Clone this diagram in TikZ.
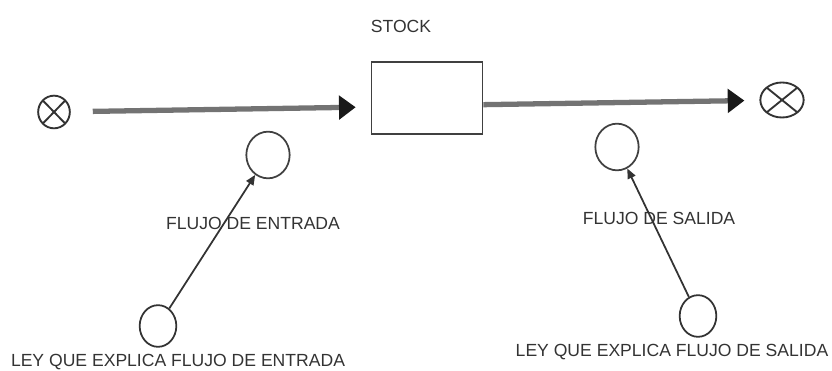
\documentclass[tikz,border=0pt]{standalone}
\usepackage{fontspec}
\setmainfont{Liberation Sans}
\usepackage{tikz}
\usetikzlibrary{arrows.meta, shapes.geometric, positioning, calc}

\tikzset{
  nube/.style={ellipse, draw=black!80, line width=1.6pt, inner sep=0pt,
    path picture={\draw[black!80, line width=1.6pt]
      (path picture bounding box.north west) -- (path picture bounding box.south east)
      (path picture bounding box.north east) -- (path picture bounding box.south west);}},
  nivel/.style={rectangle, draw=black!75, line width=1.4pt, minimum width=3.33cm, minimum height=2.16cm},
  valvula/.style={ellipse, draw=black!75, line width=1.5pt, minimum width=1.3cm, minimum height=1.4cm},
  ley/.style={ellipse, draw=black!80, line width=1.5pt, minimum width=1.1cm, minimum height=1.25cm},
  etiqueta/.style={text=black!80, inner sep=0pt, font=\fontsize{15}{18}\selectfont},
  tubo/.style={line width=4.5pt, draw=black!55, -{Triangle[length=0.5cm, width=0.7cm, color=black!90]}},
  enlace/.style={line width=1.5pt, draw=black!80, -{Triangle[length=0.3cm, width=0.25cm]}}
}

\begin{document}
\begin{tikzpicture}[x=0.03cm, y=-0.03cm]

            % Marco de la figura
            \useasboundingbox (0,0) rectangle (832,371);

            % Fuente, nivel y sumidero
            \node[nube, minimum width=0.95cm, minimum height=0.98cm] (fuente) at (54,112) {}; % Fuente
            \node[nivel] (stock) at (427,98) {}; % Nivel
            \node[nube, minimum width=1.3cm, minimum height=1.05cm] (sumidero) at (782,100) {}; % Sumidero
            \node[etiqueta] (lblStock) at (401,26) {STOCK};

            % Tubos de flujo
            \draw[tubo, shorten <=0.66cm, shorten >=0.45cm] (fuente) -- ([yshift=-0.27cm]stock.west); % Entrada
            \draw[tubo, shorten >=0.45cm] ([yshift=-0.2cm]stock.east) -- (sumidero); % Salida

            % Valvulas
            \node[valvula] (valvEnt) at (268,155) {}; % Flujo de entrada
            \node[valvula] (valvSal) at (617,147) {}; % Flujo de salida
            \node[etiqueta] (lblEnt) at (253,223) {FLUJO DE ENTRADA};
            \node[etiqueta] (lblSal) at (659,218) {FLUJO DE SALIDA};

            % Leyes que explican los flujos
            \node[ley] (leyEnt) at (158,326) {};
            \node[ley] (leySal) at (698,316) {};
            \node[etiqueta] (lblLeyEnt) at (178,362) {LEY QUE EXPLICA FLUJO DE ENTRADA};
            \node[etiqueta] (lblLeySal) at (672,352) {LEY QUE EXPLICA FLUJO DE SALIDA};

            \draw[enlace] (leyEnt) -- (valvEnt); % Ley -> entrada
            \draw[enlace] (leySal) -- (valvSal); % Ley -> salida

            \end{tikzpicture}
\end{document}
